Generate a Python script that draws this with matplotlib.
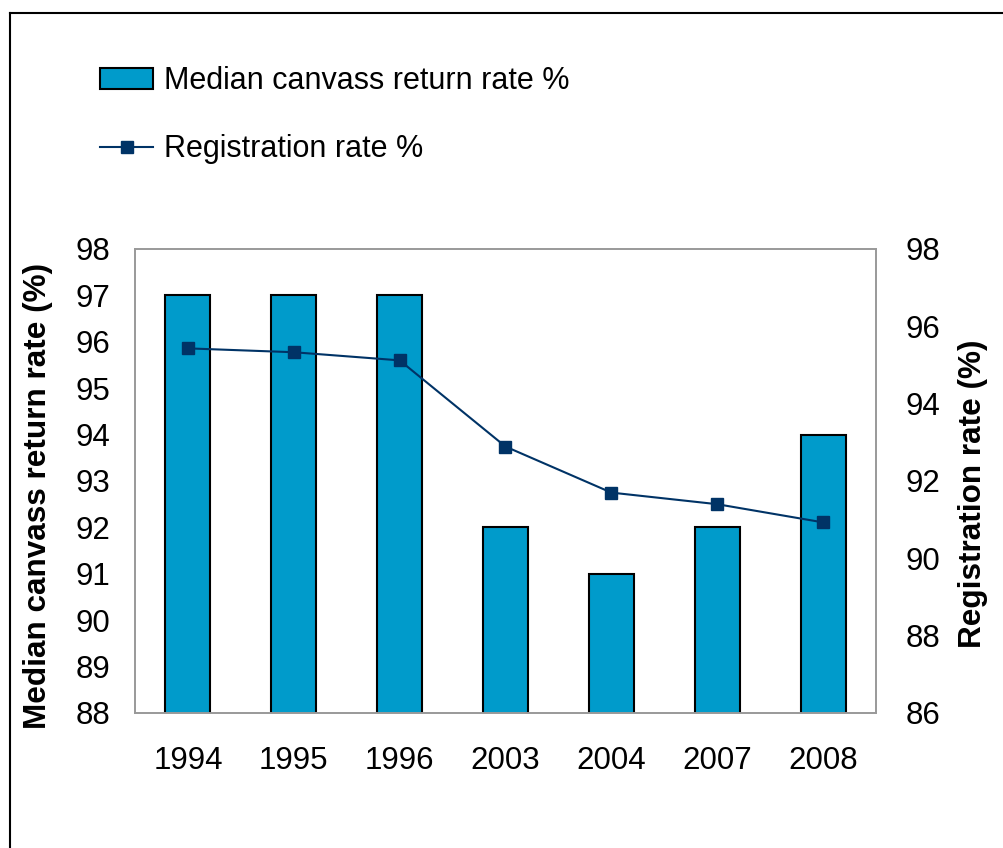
import matplotlib
matplotlib.use('Agg')
import matplotlib.pyplot as plt
from matplotlib.lines import Line2D
from matplotlib.patches import Patch

years = ['1994', '1995', '1996', '2003', '2004', '2007', '2008']
canvass_return = [97, 97, 97, 92, 91, 92, 94]
registration = [95.43, 95.33, 95.12, 92.89, 91.70, 91.40, 90.93]

bar_color = '#009BCB'
line_color = '#003366'

plt.rcParams['font.family'] = ['Liberation Sans', 'DejaVu Sans']

W, H = 1004, 848
fig = plt.figure(figsize=(W / 100, H / 100), dpi=100)
ax = fig.add_axes([135 / W, 1 - 713 / H, (876 - 135) / W, (713 - 249) / H])

x = range(len(years))
ax.bar(x, canvass_return, width=0.425, color=bar_color, edgecolor='black',
       linewidth=1.5, bottom=0, zorder=2)
ax.set_ylim(88, 98)
ax.set_xlim(-0.5, len(years) - 0.5)
ax.set_yticks(range(88, 99))
ax.set_xticks(list(x))
ax.set_xticklabels(years)
ax.tick_params(axis='y', length=0, pad=18, labelsize=22.5)
ax.tick_params(axis='x', length=0, pad=24, labelsize=22.5)
ax.set_ylabel('Median canvass return rate (%)', fontsize=22.7, fontweight='bold', va='center')
ax.yaxis.set_label_coords(-0.131, 0.468)

ax2 = ax.twinx()
ax2.plot(list(x), registration, color=line_color, linewidth=1.5, marker='s',
         markersize=8, markerfacecolor=line_color, markeredgecolor=line_color, zorder=3)
ax2.set_ylim(86, 98)
ax2.set_yticks(range(86, 99, 2))
ax2.tick_params(axis='y', length=0, pad=21, labelsize=22.5)
ax2.set_ylabel('Registration rate (%)', fontsize=22.7, fontweight='bold', va='center')
ax2.yaxis.set_label_coords(1.131, 0.472)

for a in (ax, ax2):
    for s in a.spines.values():
        s.set_color('#999999')
        s.set_linewidth(1.2)

handles = [Patch(facecolor=bar_color, edgecolor='black', linewidth=1.5),
           Line2D([0], [0], color=line_color, linewidth=1.5, marker='s', markersize=8)]
fig.legend(handles, ['Median canvass return rate %', 'Registration rate %'],
           loc='upper left', bbox_to_anchor=(100 / W, 1 - 66 / H), frameon=False,
           fontsize=22, borderpad=0, borderaxespad=0, handlelength=1.75, handleheight=0.7,
           handletextpad=0.35, labelspacing=1.25)

# outer frame (left and top edges only)
fig.add_artist(Line2D([10 / W, 10 / W], [0, 1 - 13 / H], transform=fig.transFigure,
                      color='black', linewidth=1.5))
fig.add_artist(Line2D([10 / W, 1], [1 - 13 / H, 1 - 13 / H], transform=fig.transFigure,
                      color='black', linewidth=1.5))

fig.savefig('out.png', dpi=100)
